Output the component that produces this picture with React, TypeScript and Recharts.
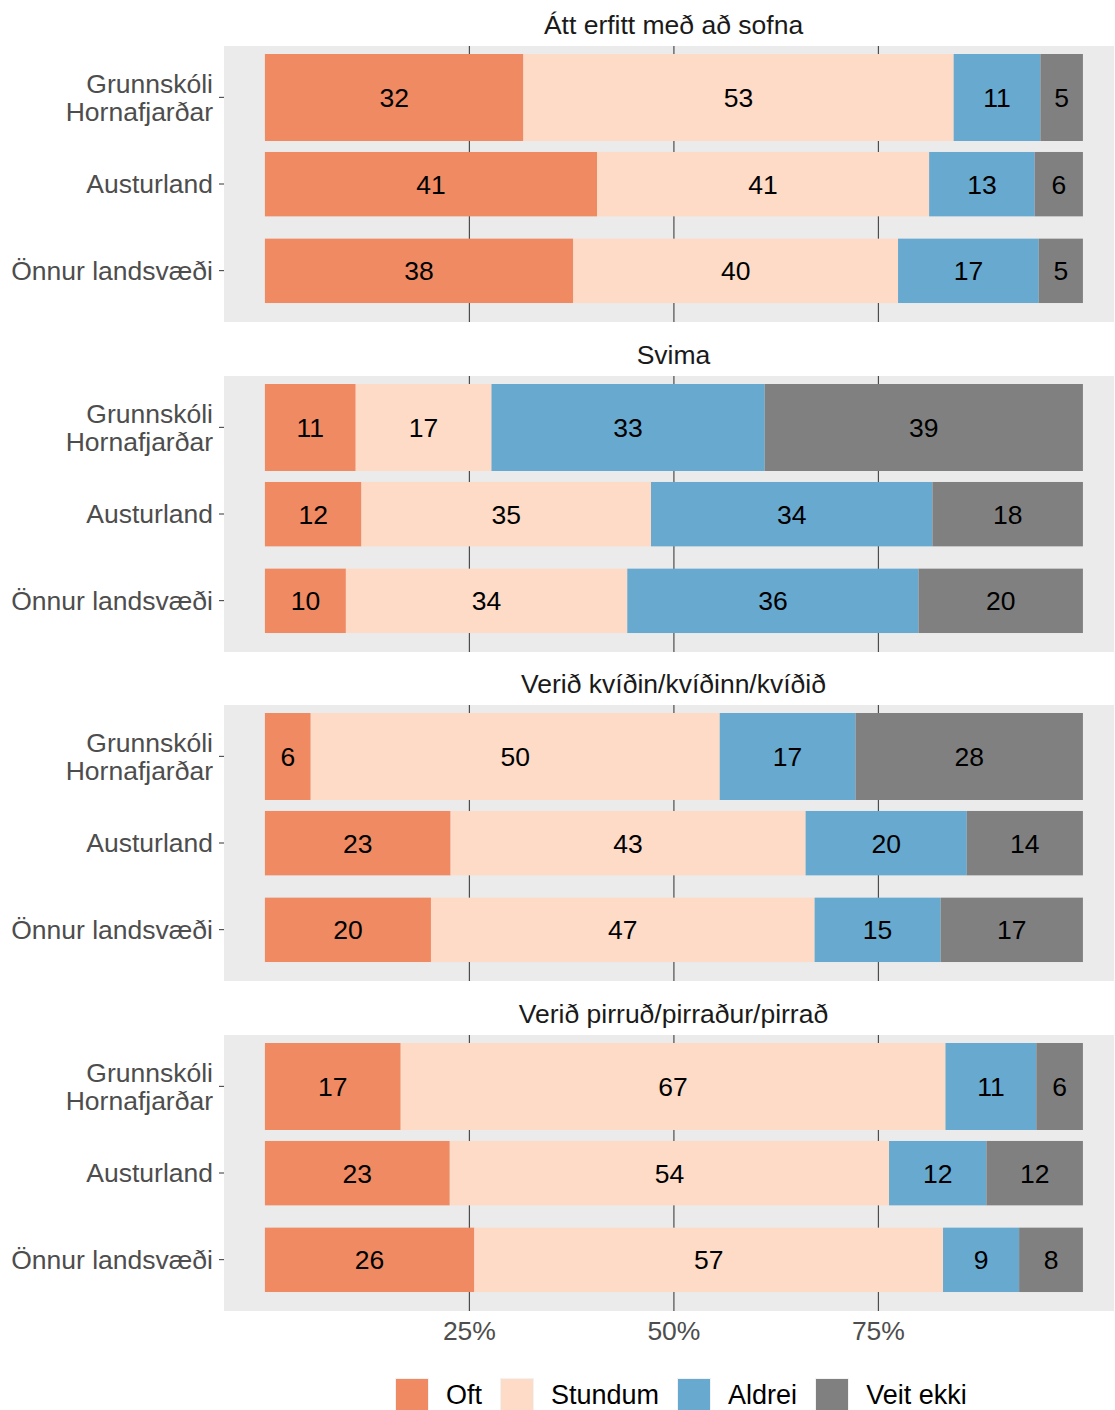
import React from 'react';
import { BarChart, Bar, XAxis, YAxis, CartesianGrid, LabelList } from 'recharts';

const categories = ['Grunnskóli\nHornafjarðar', 'Austurland', 'Önnur landsvæði'];
const panelTitles = [
  'Átt erfitt með að sofna',
  'Svima',
  'Verið kvíðin/kvíðinn/kvíðið',
  'Verið pirruð/pirraður/pirrað',
];
const seriesNames = ['Oft', 'Stundum', 'Aldrei', 'Veit ekki'];
const xTicks = [25, 50, 75];

// one row per panel, values in percent for the three categories
const oft = [
  [31.6, 40.6, 37.7],
  [11.1, 11.8, 9.9],
  [5.6, 22.7, 20.3],
  [16.6, 22.6, 25.6],
];
const stundum = [
  [52.6, 40.6, 39.7],
  [16.6, 35.4, 34.4],
  [50.0, 43.4, 46.9],
  [66.6, 53.7, 57.3],
];
const aldrei = [
  [10.6, 12.9, 17.2],
  [33.4, 34.4, 35.6],
  [16.6, 19.7, 15.4],
  [11.1, 11.9, 9.3],
];
const veitEkki = [
  [5.2, 5.9, 5.4],
  [38.9, 18.4, 20.1],
  [27.8, 14.2, 17.4],
  [5.7, 11.8, 7.8],
];

const COLORS = ['#EF8A62', '#FDDBC7', '#67A9CF', '#808080'];
const KEYS = ['oft', 'stundum', 'aldrei', 'veitEkki'];
const FONT = '"Liberation Sans", Arial, sans-serif';
const FS = 26.5;
const PANEL_H = 276;
const CHART_W = 1114;
const AXIS_W = 224;
const X_DOMAIN: [number, number] = [-5, 103.8];
// first row is drawn thicker than the other two, as in the original
const BAR_THICKNESS = [1, 0.74, 0.74];

function panelData(p: number) {
  return categories.map((name, i) => ({
    name,
    oft: oft[p][i],
    stundum: stundum[p][i],
    aldrei: aldrei[p][i],
    veitEkki: veitEkki[p][i],
  }));
}

function BarShape(props: any) {
  const { x, y, width, height, fill, index } = props;
  const f = BAR_THICKNESS[index] ?? 1;
  const h = height * f;
  return <rect x={x} y={y + (height - h) / 2} width={width} height={h} fill={fill} />;
}

function CategoryTick({ x, y, payload }: any) {
  const lines = String(payload.value).split('\n');
  const lh = 28;
  return (
    <text x={x} y={y} textAnchor="end" fill="#4D4D4D" fontSize={FS} fontFamily={FONT}>
      {lines.map((l, i) => (
        <tspan key={i} x={x} dy={i === 0 ? -((lines.length - 1) * lh) / 2 + FS * 0.355 : lh}>
          {l}
        </tspan>
      ))}
    </text>
  );
}

// vertical grid lines at the x ticks, placed with the axis scale
function gridX({ xAxis, offset }: any) {
  const s = xAxis?.scale;
  if (typeof s === 'function') return xTicks.map((t) => s(t));
  const [d0, d1] = X_DOMAIN;
  return xTicks.map((t) => offset.left + ((t - d0) / (d1 - d0)) * offset.width);
}

function Panel({ p, last }: { p: number; last: boolean }) {
  const axisH = last ? 44 : 0;
  return (
    <BarChart
      width={CHART_W}
      height={PANEL_H + axisH}
      data={panelData(p)}
      layout="vertical"
      barCategoryGap={0}
      barGap={0}
      margin={{ top: 0, right: 0, bottom: 0, left: 0 }}
    >
      <CartesianGrid
        horizontal={false}
        stroke="#4D4D4D"
        strokeWidth={1.2}
        fill="#EBEBEB"
        verticalCoordinatesGenerator={gridX}
      />
      <XAxis
        type="number"
        domain={X_DOMAIN}
        ticks={xTicks}
        allowDataOverflow
        height={axisH}
        axisLine={false}
        tickLine={false}
        tickSize={0}
        tickMargin={10}
        tick={last ? { fill: '#4D4D4D', fontSize: FS, fontFamily: FONT } : false}
        tickFormatter={(v) => `${v}%`}
      />
      <YAxis
        type="category"
        dataKey="name"
        width={AXIS_W}
        padding={{ top: 8, bottom: 8 }}
        axisLine={false}
        tickLine={{ stroke: '#333333' }}
        tickSize={5}
        tickMargin={6}
        tick={<CategoryTick />}
        interval={0}
      />
      {KEYS.map((k, i) => (
        <Bar key={k} dataKey={k} stackId="a" fill={COLORS[i]} shape={<BarShape />} isAnimationActive={false}>
          <LabelList
            dataKey={k}
            position="center"
            formatter={(v: any) => Math.round(Number(v))}
            fill="#000000"
            fontSize={FS}
            fontFamily={FONT}
          />
        </Bar>
      ))}
    </BarChart>
  );
}

export default function App() {
  const panelTops = panelTitles.map((_, i) => Math.round(46 + i * 329.7));
  return (
    <div
      style={{
        position: 'absolute',
        left: 0,
        top: 0,
        width: 1115,
        height: 1410,
        overflow: 'hidden',
        background: '#ffffff',
        fontFamily: FONT,
      }}
    >
      {panelTitles.map((t, i) => (
        <React.Fragment key={t}>
          <div
            style={{
              position: 'absolute',
              left: AXIS_W,
              width: 899,
              top: panelTops[i] - 21 - 16,
              height: 32,
              lineHeight: '32px',
              textAlign: 'center',
              fontSize: FS,
              color: '#1A1A1A',
              whiteSpace: 'nowrap',
            }}
          >
            {t}
          </div>
          <div style={{ position: 'absolute', left: 0, top: panelTops[i] }}>
            <Panel p={i} last={i === panelTitles.length - 1} />
          </div>
        </React.Fragment>
      ))}
      <div
        style={{
          position: 'absolute',
          left: 395,
          top: 1378,
          display: 'flex',
          alignItems: 'center',
          fontSize: 27,
          color: '#000000',
        }}
      >
        {seriesNames.map((s, i) => (
          <div key={s} style={{ display: 'flex', alignItems: 'center', marginRight: 18 }}>
            <div style={{ width: 34, height: 34, background: '#F2F2F2', padding: 1, boxSizing: 'border-box' }}>
              <div style={{ width: 32, height: 32, background: COLORS[i] }} />
            </div>
            <span style={{ marginLeft: 17, whiteSpace: 'nowrap' }}>{s}</span>
          </div>
        ))}
      </div>
    </div>
  );
}
